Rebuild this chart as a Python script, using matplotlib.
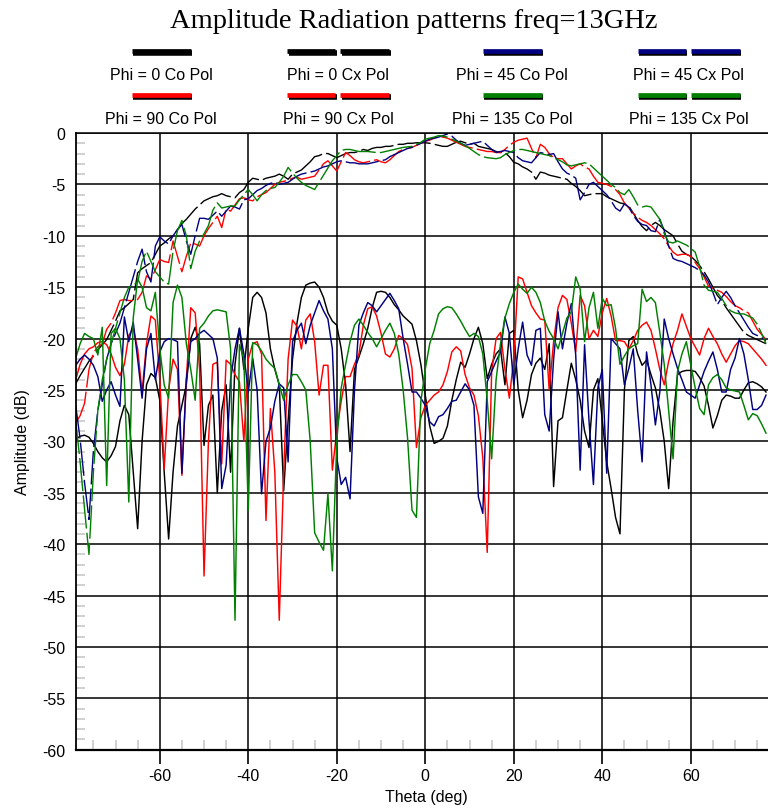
import numpy as np
import matplotlib.pyplot as plt
from matplotlib.lines import Line2D
from matplotlib.ticker import MultipleLocator

plt.rcParams['font.family'] = ['Liberation Sans', 'DejaVu Sans']
plt.rcParams['axes.unicode_minus'] = False

# theta grid in degrees, one sample per degree
theta = np.arange(-79, 78)

# upper (co-polar) curves, dB
co_phi0 = [-24.4, -23.6, -22.9, -22.2, -21.7, -21.1, -20.6, -20.1, -19.2, -18.3,
           -17.3, -17.0, -16.6, -16.2, -13.6, -13.2, -12.9, -12.6, -11.8, -11.0,
           -10.7, -10.3, -10.0, -9.4, -8.8, -8.4, -7.9, -7.4, -7.0, -6.6,
           -6.4, -6.2, -6.1, -5.9, -6.1, -6.2, -6.3, -5.8, -5.5, -4.8,
           -4.4, -4.5, -4.6, -4.4, -4.3, -4.2, -4.0, -4.2, -4.5, -4.0,
           -3.8, -3.6, -3.2, -2.8, -2.3, -2.2, -2.0, -2.0, -2.2, -2.4,
           -2.2, -2.0, -1.9, -1.9, -1.8, -1.6, -1.7, -1.5, -1.4, -1.4,
           -1.3, -1.3, -1.2, -1.1, -1.1, -1.0, -1.0, -0.95, -0.95, -0.95,
           -1.0, -1.1, -1.2, -1.3, -1.3, -1.1, -0.9, -0.8, -0.95, -1.1,
           -1.0, -1.3, -1.4, -1.5, -1.6, -1.8, -1.9, -1.9, -2.3, -2.85,
           -3.0, -3.3, -3.5, -3.8, -4.5, -3.8, -3.9, -4.1, -4.2, -4.3,
           -4.4, -4.5, -4.9, -5.2, -5.6, -6.1, -6.0, -5.9, -5.9, -5.9,
           -6.2, -6.4, -6.6, -6.8, -6.9, -7.1, -7.8, -8.5, -9.1, -9.5,
           -9.0, -8.7, -9.0, -9.4, -9.7, -10.0, -10.8, -11.5, -11.8, -12.0,
           -12.4, -12.9, -13.5, -14.2, -15.0, -15.8, -16.3, -17.0, -17.6, -18.2,
           -18.8, -19.4, -19.7, -19.9, -20.1, -20.3, -20.5]

co_phi90 = [-28.2, -27.5, -26.3, -23.0, -21.4, -20.8, -20.5, -19.1, -18.5, -17.5,
            -16.3, -16.2, -16.3, -16.3, -16.2, -15.5, -13.9, -14.2, -13.3, -12.3,
            -12.5, -12.6, -10.5, -12.0, -13.5, -12.0, -10.7, -10.8, -11.0, -10.0,
            -9.3, -8.7, -8.1, -9.2, -7.4, -7.6, -7.0, -6.4, -6.3, -6.5,
            -6.6, -6.2, -6.0, -5.8, -5.4, -5.0, -4.8, -4.7, -4.6, -4.4,
            -4.3, -4.5, -4.4, -4.3, -4.2, -3.6, -3.0, -2.7, -3.2, -3.7,
            -2.8, -1.9, -2.2, -2.6, -2.8, -2.9, -2.8, -2.7, -2.6, -2.8,
            -2.9, -2.6, -2.2, -1.8, -1.6, -1.5, -1.4, -1.2, -1.0, -0.8,
            -0.7, -0.5, -0.4, -0.4, -0.5, -0.7, -0.9, -1.1, -1.3, -1.4,
            -1.5, -1.6, -1.7, -1.8, -1.8, -1.9, -1.9, -1.6, -1.2, -0.9,
            -0.7, -0.6, -0.5, -1.5, -2.4, -1.1, -1.4, -2.0, -2.4, -2.5,
            -2.5, -3.0, -3.5, -3.2, -3.0, -3.3, -3.5, -4.2, -4.8, -4.9,
            -5.0, -5.2, -5.5, -6.0, -6.8, -7.3, -7.8, -8.2, -8.5, -8.7,
            -9.0, -9.4, -9.8, -10.3, -11.0, -11.6, -11.9, -11.8, -11.8, -12.0,
            -12.6, -13.2, -14.0, -14.9, -15.1, -15.3, -15.5, -15.9, -16.4, -16.8,
            -17.0, -17.3, -17.5, -18.3, -19.1, -19.6, -20.1]

co_phi45 = [-26.5, -29.8, -34.0, -37.6, -30.9, -27.0, -24.5, -22.0, -20.5, -19.5,
            -18.5, -17.0, -15.5, -14.0, -12.5, -11.3, -13.5, -14.5, -11.0, -10.1,
            -10.5, -10.8, -10.0, -9.4, -8.9, -10.5, -11.8, -10.0, -8.3, -8.3,
            -8.4, -8.0, -7.6, -8.1, -7.6, -7.1, -7.2, -7.4, -6.5, -6.4,
            -6.0, -5.6, -5.4, -5.1, -4.9, -4.8, -5.0, -4.9, -4.8, -4.5,
            -4.2, -4.0, -3.9, -3.8, -3.7, -3.5, -3.3, -3.2, -3.0, -2.8,
            -2.7, -2.8, -2.9, -2.9, -3.0, -3.0, -3.0, -2.9, -2.8, -2.7,
            -2.6, -2.3, -2.1, -1.9, -1.7, -1.5, -1.4, -1.2, -1.0, -0.8,
            -0.6, -0.5, -0.4, -0.25, -0.1, -0.3, -0.7, -1.0, -1.2, -1.1,
            -1.0, -0.9, -0.8, -1.2, -1.6, -1.9, -1.8, -1.7, -1.8, -1.9,
            -2.4, -2.7, -2.8, -2.9, -2.4, -1.9, -2.0, -2.1, -2.0, -2.8,
            -3.5, -3.9, -4.1, -4.4, -6.5, -5.8, -5.0, -4.8, -5.2, -5.6,
            -6.0, -6.6, -7.3, -7.6, -6.9, -7.2, -8.0, -8.6, -8.9, -9.0,
            -9.5, -9.6, -8.4, -9.5, -11.0, -12.2, -12.4, -12.5, -12.7, -12.9,
            -13.1, -13.4, -13.8, -14.5, -15.5, -16.7, -16.0, -15.4, -16.0, -16.8,
            -17.5, -18.2, -18.9, -19.5, -19.7, -19.9, -20.2]

co_phi135 = [-28.0, -32.0, -36.6, -41.0, -33.0, -27.0, -24.0, -22.0, -20.5, -19.0,
             -17.5, -16.0, -15.0, -14.8, -14.5, -12.5, -11.5, -12.5, -13.5, -14.0,
             -14.5, -14.7, -11.5, -9.5, -8.5, -10.0, -13.2, -11.5, -10.5, -9.8,
             -9.0, -7.5, -6.8, -7.3, -7.2, -7.1, -7.1, -6.5, -6.0, -5.5,
             -6.0, -6.6, -6.0, -5.6, -5.4, -5.3, -4.8, -4.2, -3.35, -3.9,
             -4.4, -4.8, -5.1, -5.3, -5.5, -4.8, -4.1, -3.4, -2.7, -2.2,
             -1.7, -1.6, -1.6, -1.7, -1.8, -1.8, -1.8, -1.85, -1.9, -1.9,
             -1.8, -1.7, -1.6, -1.5, -1.4, -1.35, -1.3, -1.1, -0.9, -0.6,
             -0.5, -0.4, -0.26, -0.3, -0.4, -0.6, -0.8, -1.0, -1.24, -1.5,
             -1.8, -2.1, -2.3, -2.4, -2.45, -2.5, -2.4, -2.1, -1.9, -1.7,
             -1.6, -1.6, -1.7, -1.8, -1.9, -2.0, -2.1, -2.2, -2.4, -2.6,
             -2.8, -3.1, -3.2, -3.1, -3.0, -2.9, -3.0, -3.4, -3.8, -4.2,
             -4.6, -5.0, -5.3, -5.8, -6.0, -5.5, -6.2, -7.0, -7.2, -7.1,
             -7.2, -7.8, -8.4, -9.8, -10.6, -10.7, -10.5, -10.7, -10.9, -11.2,
             -11.6, -13.0, -14.8, -15.3, -15.4, -15.5, -16.1, -16.8, -17.3, -17.5,
             -17.6, -17.6, -17.8, -18.0, -18.6, -19.5, -20.5]

# lower (cross-polar) curves, dB
cx_phi0 = [-29.8, -29.5, -29.4, -29.6, -30.2, -31.0, -31.6, -32.0, -31.4, -30.5,
           -28.0, -26.5, -27.4, -33.0, -38.5, -30.0, -24.5, -23.4, -23.8, -26.0,
           -33.0, -39.5, -33.0, -28.5, -26.5, -24.5, -20.0, -18.9, -20.5, -30.4,
           -26.5, -25.5, -35.0, -27.0, -24.5, -33.0, -22.5, -19.0, -23.0, -19.0,
           -16.0, -15.5, -16.0, -17.5, -21.0, -23.0, -24.5, -34.8, -28.0, -22.0,
           -18.5, -16.0, -14.8, -14.6, -14.5, -15.0, -16.0, -17.5, -18.3, -18.7,
           -21.0, -24.5, -31.0, -23.0, -21.8, -20.5, -19.0, -17.0, -15.5, -15.4,
           -15.5, -16.0, -16.7, -17.2, -17.8, -18.2, -18.6, -20.2, -22.5, -25.5,
           -28.5, -30.2, -30.0, -29.7, -28.5, -26.0, -24.0, -22.3, -22.8, -21.5,
           -20.0, -18.9, -20.5, -23.9, -22.5, -21.5, -21.0, -24.5, -19.5, -19.2,
           -25.0, -27.7, -26.0, -23.5, -22.4, -21.9, -23.0, -20.5, -34.4, -28.0,
           -27.7, -25.0, -22.4, -24.0, -26.0, -29.0, -30.6, -25.0, -23.9, -28.0,
           -32.0, -34.6, -37.4, -39.0, -25.0, -20.2, -19.8, -21.5, -22.6, -22.1,
           -23.5, -24.8, -27.0, -30.0, -34.6, -28.0, -23.5, -23.2, -23.1, -23.1,
           -23.2, -23.8, -24.6, -26.5, -28.7, -27.5, -26.0, -25.5, -25.6, -25.8,
           -25.8, -25.0, -24.3, -24.2, -24.4, -24.7, -25.2]

cx_phi90 = [-24.0, -22.5, -21.5, -21.0, -20.8, -20.4, -20.3, -20.6, -21.5, -22.8,
            -23.6, -22.5, -19.7, -19.0, -21.0, -25.2, -20.5, -17.8, -18.2, -24.0,
            -32.7, -25.0, -22.0, -23.0, -33.3, -24.0, -17.0, -17.5, -23.0, -43.1,
            -30.0, -22.5, -22.3, -32.2, -22.1, -22.5, -23.5, -24.2, -30.0, -22.0,
            -20.5, -20.3, -21.5, -37.7, -26.8, -33.0, -47.4, -33.0, -22.0, -18.2,
            -18.8, -21.0, -18.2, -17.6, -20.3, -25.5, -22.6, -22.6, -32.8, -29.0,
            -26.1, -23.7, -23.7, -22.5, -21.5, -18.7, -17.1, -16.9, -17.8, -19.5,
            -21.5, -21.8, -21.0, -19.7, -20.0, -20.6, -22.9, -30.6, -27.7, -26.5,
            -26.0, -25.5, -25.2, -24.5, -23.2, -21.3, -20.8, -21.2, -23.5, -24.8,
            -25.5, -27.5, -31.6, -40.8, -23.2, -20.0, -19.4, -23.0, -25.8, -21.9,
            -14.0, -14.2, -15.5, -16.8, -17.5, -18.1, -18.2, -25.0, -20.3, -17.0,
            -15.8, -16.2, -18.5, -21.3, -15.8, -16.8, -20.0, -19.2, -19.8, -17.5,
            -16.1, -17.8, -20.2, -20.2, -20.3, -21.0, -20.2, -19.2, -18.7, -18.4,
            -19.2, -21.0, -23.0, -24.5, -22.2, -20.5, -19.2, -17.6, -18.8, -20.0,
            -20.8, -21.6, -20.0, -19.0, -19.8, -20.5, -21.5, -22.3, -21.5, -20.7,
            -20.2, -20.3, -20.5, -21.0, -21.5, -22.0, -22.6]

cx_phi45 = [-22.6, -22.0, -21.6, -22.0, -22.6, -23.7, -26.1, -25.0, -24.2, -25.5,
            -26.6, -17.9, -20.3, -18.4, -22.0, -25.8, -21.0, -19.5, -24.0, -21.3,
            -20.3, -20.0, -20.1, -20.3, -33.1, -24.0, -20.3, -20.0, -19.5, -19.2,
            -19.6, -20.0, -21.9, -34.6, -32.3, -24.0, -21.0, -19.0, -21.5, -25.2,
            -21.9, -25.0, -35.1, -30.0, -28.7, -26.1, -24.4, -24.8, -32.0, -20.3,
            -19.2, -18.5, -20.5, -18.7, -17.5, -16.3, -17.3, -18.1, -21.0, -31.6,
            -34.2, -33.5, -35.6, -25.0, -18.7, -17.5, -16.5, -16.8, -17.4, -16.8,
            -16.2, -15.6, -16.3, -17.1, -20.0, -22.5, -25.2, -25.2, -25.8, -26.5,
            -28.1, -28.5, -27.6, -27.4, -26.8, -26.1, -26.0, -25.2, -24.4, -25.0,
            -26.5, -35.4, -37.0, -24.2, -23.2, -22.2, -21.3, -17.9, -19.5, -24.5,
            -21.0, -18.4, -21.6, -22.6, -19.2, -19.0, -27.4, -29.0, -22.0, -17.4,
            -21.0, -18.5, -16.6, -21.6, -32.8, -20.6, -28.0, -34.2, -24.8, -23.0,
            -33.1, -20.0, -20.5, -21.0, -24.5, -22.9, -21.0, -27.0, -32.0, -21.3,
            -24.5, -28.4, -25.2, -18.1, -20.0, -21.5, -22.9, -24.0, -25.2, -25.5,
            -25.8, -24.5, -23.2, -22.2, -21.3, -23.0, -25.2, -25.2, -23.0, -21.9,
            -20.0, -21.5, -24.0, -26.9, -26.9, -26.5, -25.5]

cx_phi135 = [-21.9, -20.5, -19.5, -19.8, -20.0, -21.6, -18.9, -34.3, -19.5, -19.0,
             -20.0, -24.0, -35.9, -18.0, -14.2, -15.0, -17.0, -17.3, -15.5, -21.0,
             -24.5, -25.8, -16.5, -14.8, -16.0, -20.5, -23.0, -26.0, -19.0, -18.5,
             -17.8, -17.3, -17.2, -17.3, -17.4, -21.0, -47.4, -20.6, -22.0, -36.7,
             -20.4, -20.6, -21.2, -22.0, -22.5, -22.9, -24.5, -26.0, -24.5, -23.5,
             -23.5, -24.2, -25.0, -30.0, -38.9, -39.8, -40.6, -35.1, -42.6, -30.0,
             -24.8, -22.5, -20.3, -18.7, -18.1, -18.7, -19.4, -20.0, -20.8, -20.0,
             -19.2, -18.5, -19.5, -21.5, -25.0, -29.7, -36.7, -37.4, -26.1, -23.0,
             -20.5, -19.2, -17.6, -17.1, -16.9, -17.0, -17.6, -18.3, -19.1, -19.8,
             -19.5, -19.8, -21.5, -26.0, -31.7, -24.0, -20.5, -18.0, -16.6, -15.5,
             -14.7, -15.2, -15.6, -15.0, -15.5, -16.5, -18.3, -19.3, -20.0, -21.0,
             -19.5, -18.0, -17.4, -14.0, -15.2, -20.3, -17.0, -15.5, -19.0, -16.1,
             -16.8, -16.7, -19.0, -22.5, -21.7, -21.0, -20.7, -20.5, -15.2, -16.4,
             -16.0, -16.5, -19.4, -22.5, -27.0, -31.7, -23.2, -21.5, -20.3, -22.6,
             -24.8, -26.8, -27.4, -24.5, -23.8, -23.5, -24.0, -24.8, -25.0, -25.1,
             -25.2, -26.5, -27.9, -27.3, -27.5, -28.3, -29.2]

phi_labels = ['0', '90', '45', '135']
phi_colors = ['#000000', '#ff0000', '#000080', '#008000']
co_series = [co_phi0, co_phi90, co_phi45, co_phi135]
cx_series = [cx_phi0, cx_phi90, cx_phi45, cx_phi135]

W, H = 768, 812
fig = plt.figure(figsize=(W / 100, H / 100), dpi=100)
ax = fig.add_axes([75.7 / W, 1 - 750.7 / H, 1 - 75.7 / W, (750.7 - 134) / H])

for co, cx, col in zip(co_series, cx_series, phi_colors):
    ax.plot(theta, co, color=col, lw=1.0, ls=(0, (24, 3)))
    ax.plot(theta, cx, color=col, lw=1.05)

ax.set_xlim(-79, 77.45)
ax.set_ylim(-60, 0)
ax.set_xticks(np.arange(-60, 61, 20))
ax.set_yticks(np.arange(-60, 1, 5))
ax.xaxis.set_minor_locator(MultipleLocator(5))
ax.yaxis.set_minor_locator(MultipleLocator(1))
ax.set_axisbelow(True)
ax.grid(True, which='major', color='black', lw=1.1)

ax.tick_params(axis='x', which='major', direction='out', length=10, width=1.2,
               pad=3, labelsize=11.5)
ax.tick_params(axis='x', which='minor', direction='in', length=7.5, width=1.2,
               color='#c8c8c8')
ax.tick_params(axis='y', which='major', length=0, pad=7.5, labelsize=11.5)
ax.tick_params(axis='y', which='minor', direction='in', length=6.5, width=1.2,
               color='#c8c8c8')

ax.spines['right'].set_visible(False)
ax.spines['left'].set_linewidth(1.3)
ax.spines['bottom'].set_linewidth(1.6)
ax.spines['top'].set_linewidth(1.1)

ax.set_xlabel('Theta (deg)', fontsize=11.5)
ax.xaxis.set_label_coords(0.506, -0.063)
ax.set_ylabel('Amplitude (dB)', fontsize=11.5)
ax.yaxis.set_label_coords(-0.066, 0.5)

fig.text(414 / W, 1 - 21 / H, 'Amplitude Radiation patterns freq=13GHz',
         family='Liberation Serif', fontsize=20.5, ha='center', va='center')

# legend: bar above its label, two rows by four columns
col_x = [161, 338, 512, 688.5]
bar_y = [52, 96]
text_y = [76, 119]


def fx(px):
    return px / W


def fy(py):
    return 1 - py / H


def legend_bar(x0, x1, y, color):
    fig.add_artist(Line2D([fx(x0 + 1.5), fx(x1 + 1.5)], [fy(y + 1.5), fy(y + 1.5)],
                          color='black', lw=4.0, solid_capstyle='butt'))
    fig.add_artist(Line2D([fx(x0), fx(x1)], [fy(y), fy(y)],
                          color=color, lw=3.4, solid_capstyle='butt'))


for i, (phi, col) in enumerate(zip(phi_labels, phi_colors)):
    row = i % 2
    pair = i // 2
    for kind in range(2):
        c = col_x[pair * 2 + kind]
        if kind == 0:
            legend_bar(c - 29.5, c + 29.5, bar_y[row], col)
            label = 'Phi = %s Co Pol' % phi
        else:
            legend_bar(c - 51, c - 3, bar_y[row], col)
            legend_bar(c + 2, c + 51, bar_y[row], col)
            label = 'Phi = %s Cx Pol' % phi
        fig.text(fx(c), fy(text_y[row]), label, fontsize=11.5,
                 ha='center', va='center')

fig.savefig('out.png', dpi=100)
